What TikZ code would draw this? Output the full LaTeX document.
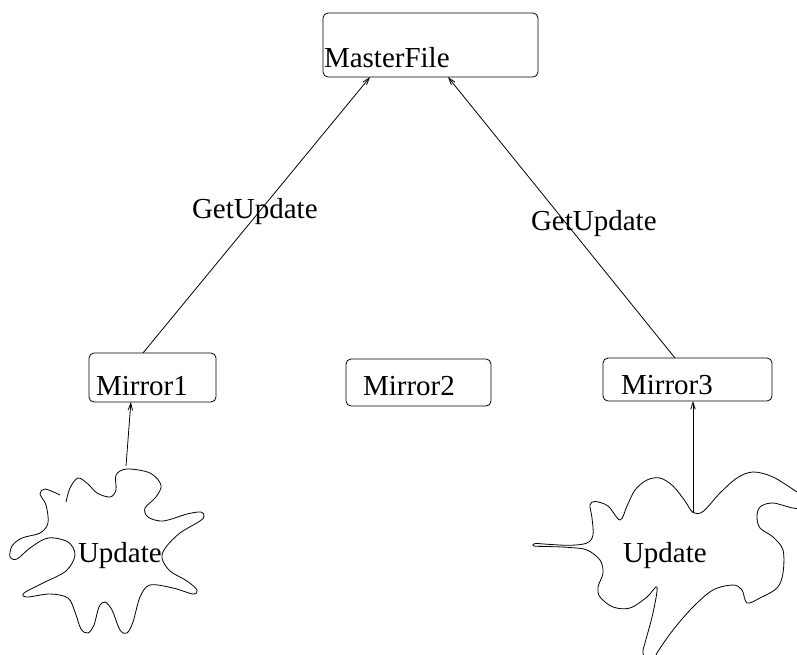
\documentclass[tikz,border=0pt]{standalone}
\usepackage{fontspec}
\setmainfont{Liberation Serif}
\usetikzlibrary{arrows.meta,calc}
\begin{document}
\begin{tikzpicture}[x=1pt,y=-1pt,
  line width=0.8pt,
  every node/.style={inner sep=0pt,outer sep=0pt},
  labeltext/.style={anchor=base west,font=\fontsize{29}{34}\selectfont},
  fbox/.style={draw,rounded corners=5pt,anchor=north west},
  arr/.style={-{Straight Barb[length=7pt,width=4.5pt]}},
  blob/.style={line width=0.8pt}]
\useasboundingbox (0,0) rectangle (797,655);
\clip (0,0) rectangle (797,655);

% boxes
\node[fbox,minimum width=215pt,minimum height=64pt] (mf) at (323,13) {};
\node[fbox,minimum width=127pt,minimum height=49pt] (m1) at (89,353) {};
\node[fbox,minimum width=145pt,minimum height=47pt] (m2) at (346,359) {};
\node[fbox,minimum width=169pt,minimum height=43pt] (m3) at (603,358) {};

% box texts
\node[labeltext] (mft) at (324,68) {MasterFile};
\node[labeltext] (m1t) at (96,395) {Mirror1};
\node[labeltext] (m2t) at (363,395) {Mirror2};
\node[labeltext] (m3t) at (621,394) {Mirror3};

% update clouds
\draw[blob] plot[smooth,tension=0.55] coordinates {
  (66,502) (70,488) (78,478) (88,484) (97,493) (110,497) (116,490) (116,475)
  (127,469) (150,473) (161,485) (156,497) (145,508) (148,517) (163,521)
  (187,514) (201,512) (204,516) (200,521) (180,533) (166,547) (162,558)
  (170,571) (187,581) (197,590) (193,594) (173,588) (150,585) (140,597)
  (133,622) (127,633) (120,630) (112,610) (105,602) (99,607) (94,625)
  (88,633) (81,629) (75,612) (68,598) (50,594) (27,597) (24,593) (43,583)
  (66,571) (75,555) (68,542) (48,538) (30,548) (17,559) (10,557) (12,546)
  (22,538) (40,533) (48,523) (46,505) (40,494) (45,489) (60,495)};
\draw[blob] plot[smooth cycle,tension=0.55] coordinates {
  (536,543.5) (548,544.3) (570,545.3) (587,543) (593,535) (592,518)
  (590,505) (595,501.5) (608,506) (620,520) (627,506) (635,490) (647,480)
  (660,478) (673,486) (685,501) (693,512.5) (703,511.5) (720,493) (737,478)
  (753,472) (773,477) (797,492) (812,502) (797,508.5) (773,503) (760,507)
  (757,517) (760,528) (773,537) (783,550) (783,573) (777,588) (760,598)
  (747,603) (742,590) (733,585) (713,590) (693,607) (673,630) (657,653)
  (650,668) (643,653) (645,643) (653,613) (657,587) (647,597) (630,608)
  (613,607) (600,597) (598,587) (603,573) (600,560) (587,550) (570,547.5)
  (548,546.5) (535,546.2) (533,544.8)};
\node[labeltext] (u1) at (78,562) {Update};
\node[labeltext] (u3) at (623,562) {Update};
\coordinate (u1top) at (126,466);
\coordinate (u3top) at (693,513);

% connectors
\draw[arr] ($(m1.north west)!0.425!(m1.north east)$) -- ($(mf.south west)!0.219!(mf.south east)$);
\draw[arr] ($(m3.north west)!0.426!(m3.north east)$) -- ($(mf.south west)!0.581!(mf.south east)$);
\node[labeltext] (g1) at (192,218) {GetUpdate};
\node[labeltext] (g3) at (531,230) {GetUpdate};
\draw[arr] (u1top) -- ($(m1.south west)!0.33!(m1.south east)$);
\draw[arr] (u3top) -- (u3top |- m3.south);
\end{tikzpicture}
\end{document}
